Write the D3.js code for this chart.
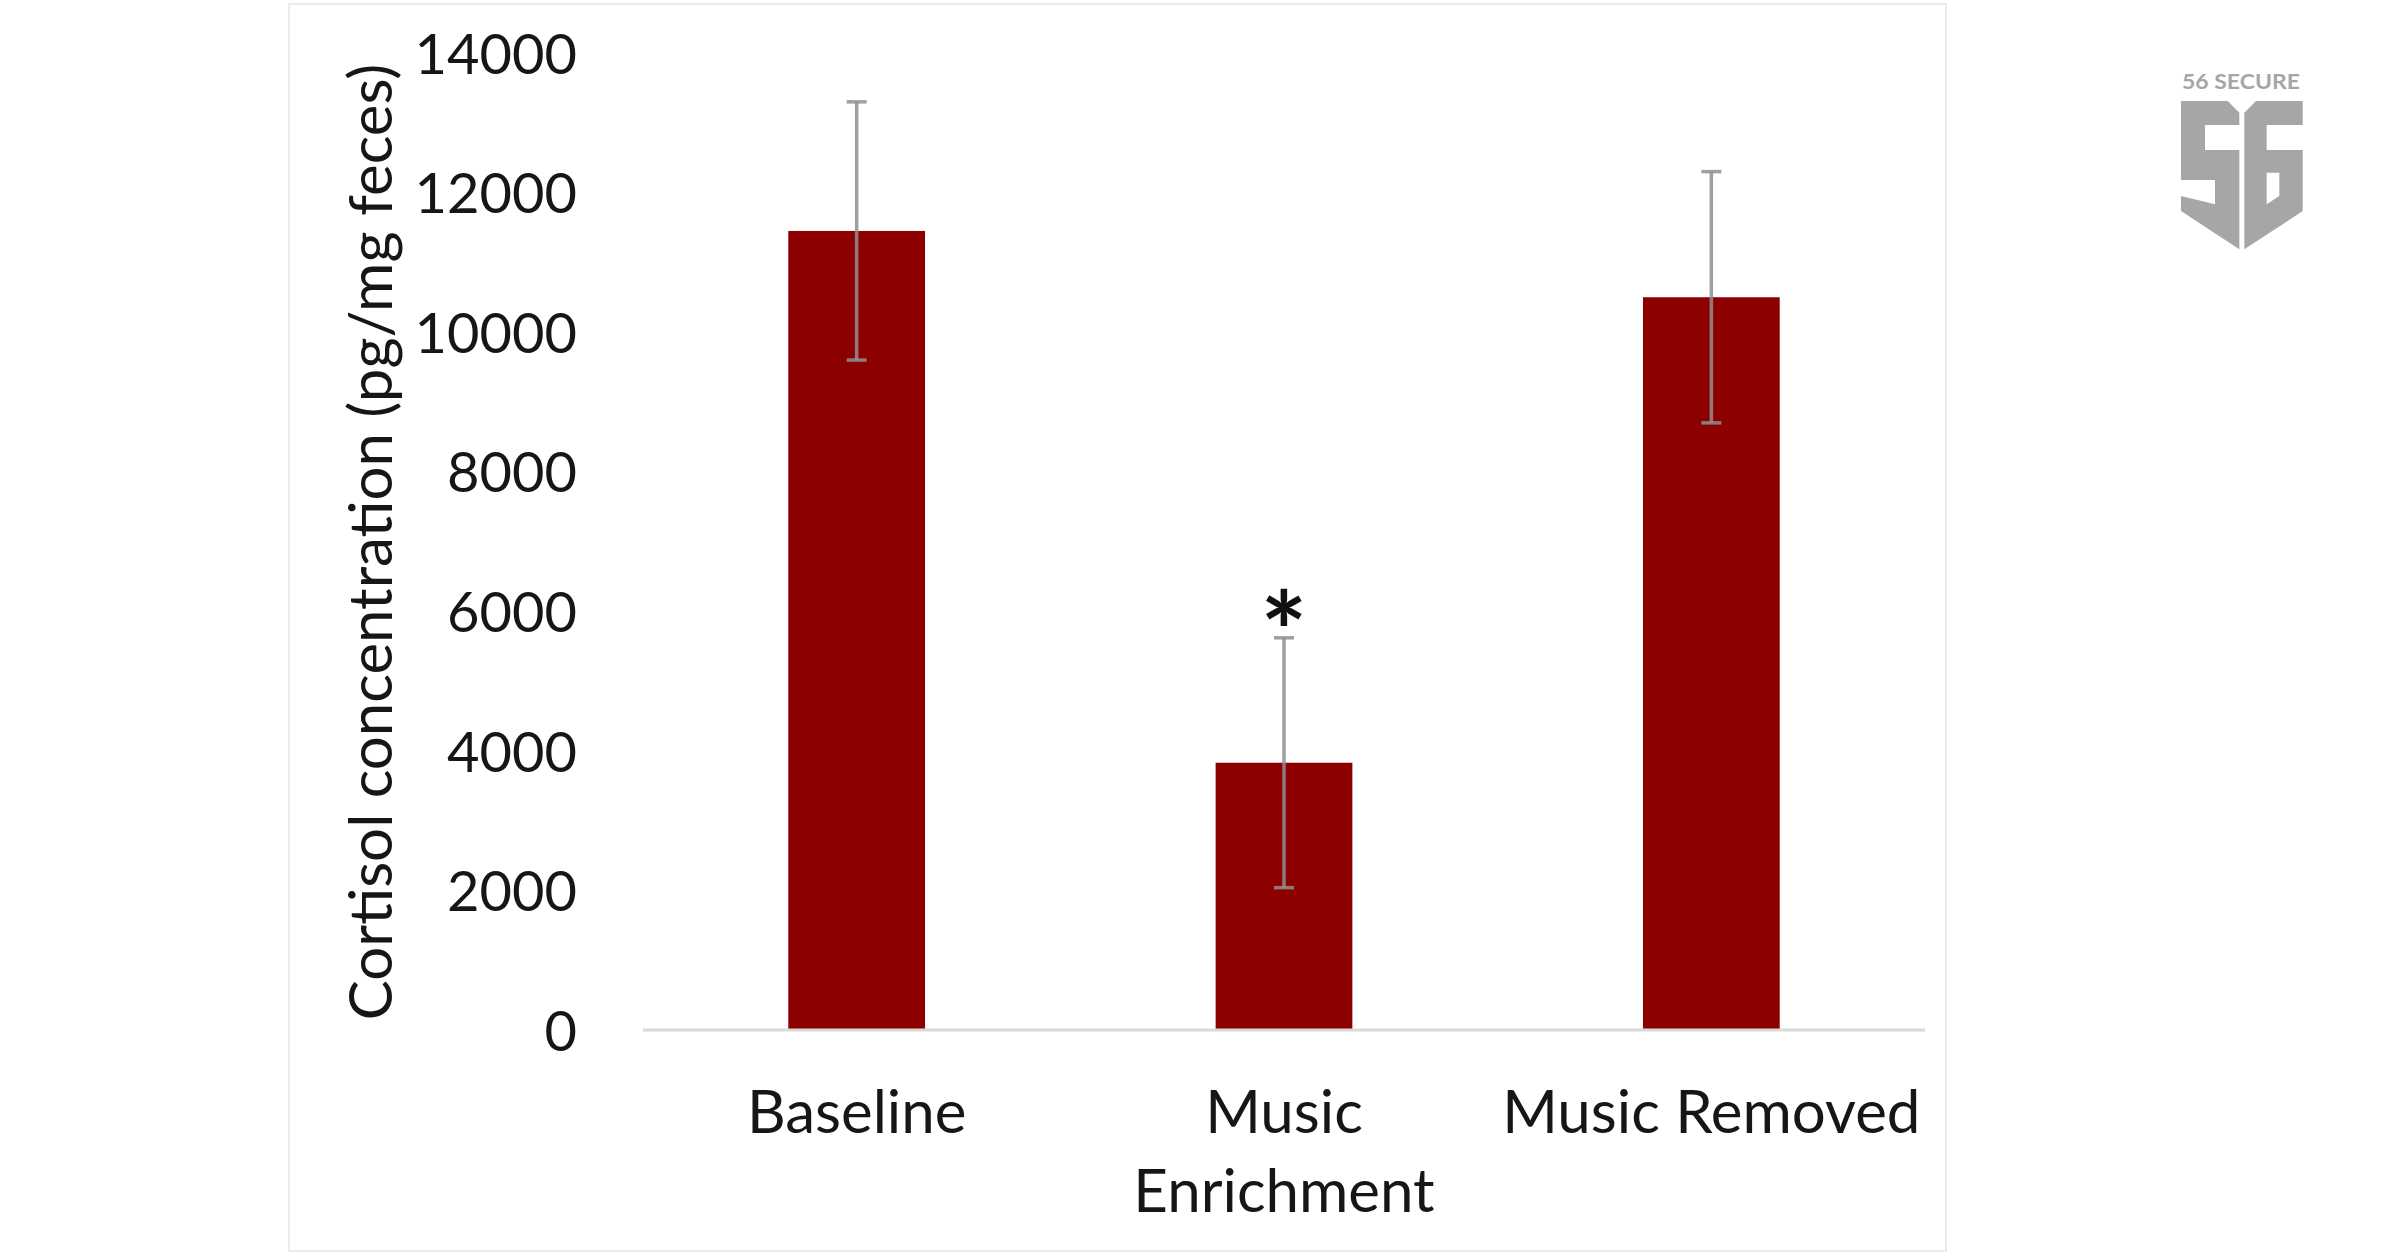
<!DOCTYPE html>
<html>
<head>
<meta charset="utf-8">
<script src="https://cdn.jsdelivr.net/npm/d3@7"></script>
<style>
  html, body { margin: 0; padding: 0; background: #ffffff; }
  svg { display: block; }
  text { font-family: Lato, "Open Sans", sans-serif; }
</style>
</head>
<body>
<svg id="chart" width="2400" height="1254"></svg>
<script>
// ---- data ----
const categories = ["Baseline", "Music\nEnrichment", "Music Removed"];
const meanValues = [11450, 3830, 10500];
const errorValues = [1850, 1790, 1800];
const significant = [false, true, false];
const yTicks = [0, 2000, 4000, 6000, 8000, 10000, 12000, 14000];
const yAxisTitle = "Cortisol concentration (pg/mg feces)";

const svg = d3.select("#chart");

// frame
svg.append("rect")
  .attr("x", 289).attr("y", 4).attr("width", 1657).attr("height", 1247)
  .attr("fill", "none").attr("stroke", "#ececec").attr("stroke-width", 2);

const x = d3.scaleBand()
  .domain(categories)
  .range([643, 1925])
  .paddingInner(0.68)
  .paddingOuter(0.34);

const y = d3.scaleLinear()
  .domain([0, 14000])
  .range([1030, 53]);

// y tick labels (no axis line / ticks)
const yAxis = d3.axisLeft(y).tickValues(yTicks).tickSize(0).tickPadding(0)
  .tickFormat(d3.format("d"));
const gy = svg.append("g").attr("transform", "translate(577,0)").call(yAxis);
gy.select(".domain").remove();
gy.selectAll("text")
  .attr("font-family", "Lato, 'Open Sans', sans-serif")
  .attr("font-size", 56)
  .attr("fill", "#161616")
  .attr("dy", "0.36em");

// y axis title
svg.append("text")
  .attr("transform", "translate(392, 542) rotate(-90)")
  .attr("text-anchor", "middle")
  .attr("font-size", 60)
  .attr("fill", "#161616")
  .text(yAxisTitle);

// bars
const data = categories.map((c, i) => ({ c, v: meanValues[i], e: errorValues[i], s: significant[i] }));

svg.append("g").selectAll("rect")
  .data(data).join("rect")
  .attr("x", d => x(d.c))
  .attr("width", x.bandwidth())
  .attr("y", d => y(d.v))
  .attr("height", d => y(0) - y(d.v))
  .attr("fill", "#8c0000");

// x axis line
svg.append("line")
  .attr("x1", x.range()[0]).attr("x2", x.range()[1])
  .attr("y1", y(0)).attr("y2", y(0))
  .attr("stroke", "#d9d9d9").attr("stroke-width", 3);

// error bars
const eg = svg.append("g");
data.forEach(d => {
  const cx = x(d.c) + x.bandwidth() / 2;
  eg.append("line")
    .attr("x1", cx).attr("x2", cx)
    .attr("y1", y(d.v + d.e)).attr("y2", y(d.v - d.e))
    .attr("stroke", "#8f8f8f").attr("stroke-opacity", 0.85).attr("stroke-width", 3.5);
  [d.v + d.e, d.v - d.e].forEach(val => {
    eg.append("line")
      .attr("x1", cx - 10).attr("x2", cx + 10)
      .attr("y1", y(val)).attr("y2", y(val))
      .attr("stroke", "#8f8f8f").attr("stroke-opacity", 0.85).attr("stroke-width", 3.5);
  });
});

// significance asterisk
data.filter(d => d.s).forEach(d => {
  svg.append("text")
    .attr("x", x(d.c) + x.bandwidth() / 2)
    .attr("y", y(d.v + d.e) + 34)
    .attr("text-anchor", "middle")
    .attr("font-family", "'DejaVu Sans', Lato, sans-serif")
    .attr("font-size", 110)
    .attr("font-weight", 700)
    .attr("fill", "#111")
    .text("*");
});

// category labels
data.forEach(d => {
  const lines = d.c.split("\n");
  const t = svg.append("text")
    .attr("text-anchor", "middle")
    .attr("font-size", 60)
    .attr("fill", "#161616");
  lines.forEach((ln, i) => {
    t.append("tspan")
      .attr("x", x(d.c) + x.bandwidth() / 2)
      .attr("y", 1133 + i * 79)
      .text(ln);
  });
});

// logo (56 SECURE)
const logo = svg.append("g").attr("transform", "translate(2176,96) scale(0.3333333)").attr("fill", "#a6a6a6");
logo.append("path")
  .attr("d", "M15,15 L155,15 L190,50 L190,87 L87,87 L87,162 L190,162 L190,460 L15,345 L15,300 L117,325 L117,252 L15,252 Z");
logo.append("path")
  .attr("fill-rule", "evenodd")
  .attr("d", "M205,50 L240,15 L380,15 L380,87 L272,87 L272,162 L380,162 L380,345 L205,460 Z M272,230 L310,230 L310,300 L272,325 Z");
svg.append("text")
  .attr("x", 2182).attr("y", 89)
  .attr("font-family", "'Open Sans', Lato, sans-serif")
  .attr("font-weight", 700)
  .attr("font-size", 20)
  .attr("textLength", 118)
  .attr("lengthAdjust", "spacingAndGlyphs")
  .attr("fill", "#a6a6a6")
  .text("56 SECURE");
</script>
</body>
</html>
